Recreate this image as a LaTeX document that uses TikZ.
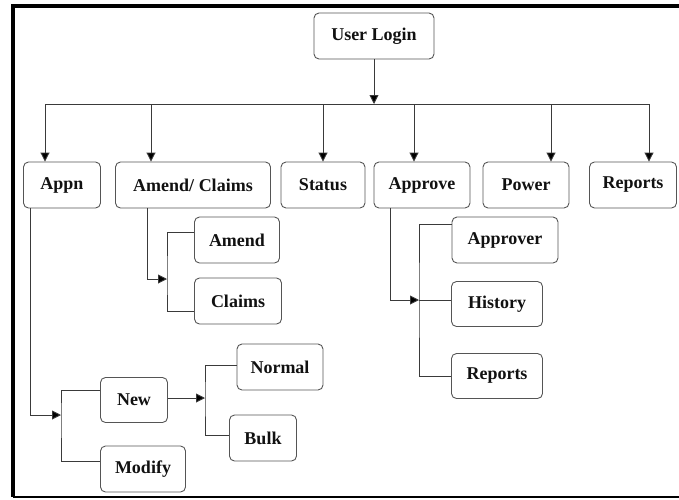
\documentclass[tikz,border=0pt]{standalone}
\usepackage{fontspec}
\setmainfont{Liberation Serif}
\newfontfamily\boxfont{Liberation Serif}
\usepackage{tikz}
\usetikzlibrary{arrows.meta,positioning,calc}
\usepackage{xcolor}
\definecolor{MenuLine}{HTML}{3a3a3a}
\definecolor{MenuBorder}{HTML}{555555}
\definecolor{MenuText}{HTML}{111111}

\begin{document}
\begin{tikzpicture}[
    x=1pt,y=-1pt,
    box/.style={draw=MenuBorder,line width=0.9pt,rounded corners=5pt,minimum height=46pt,inner sep=0pt,align=center,text=MenuText,font=\boxfont\fontsize{18}{20}\selectfont\bfseries},
    line/.style={MenuLine,line width=0.9pt},
    arr/.style={line,-{Triangle[length=9pt,width=9pt,fill=black]}},
    frame/.style={black,line width=4pt}
  ]
    \useasboundingbox (0,0) rectangle (679,499);

    % Frame
    \draw[frame] (679,6) -- (13,6) -- (13,497);
    \draw[black,line width=1.5pt] (13,497) -- (679,497);

    % TOP
    \node[box,minimum width=120pt] (login) at (374,36) {User Login};

    % MAIN MENU
    \node[box,minimum width=77pt] (appn) at (62,185) {Appn};
    \node[box,minimum width=155pt] (amcl) at (193,185) {Amend/ Claims};
    \node[box,minimum width=84pt] (status) at (323,185) {Status};
    \node[box,minimum width=96pt] (approve) at (422,185) {Approve};
    \node[box,minimum width=86pt] (power) at (526,185) {Power};
    \node[box,minimum width=87pt] (reports) at (633,185) {Reports};

    % SUB MENUS
    \node[box,minimum width=85pt] (amend) at (237,240) {Amend};
    \node[box,minimum width=87pt] (claims) at (238,301) {Claims};
    \node[box,minimum width=67pt,minimum height=45pt] (new) at (134,400) {New};
    \node[box,minimum width=85pt] (modify) at (143,469) {Modify};
    \node[box,minimum width=86pt] (normal) at (280,367) {Normal};
    \node[box,minimum width=67pt] (bulk) at (263,438) {Bulk};
    \node[box,minimum width=106pt] (approver) at (505,240) {Approver};
    \node[box,minimum width=91pt,minimum height=45pt] (history) at (497,304) {History};
    \node[box,minimum width=91pt,minimum height=45pt] (apprep) at (497,376) {Reports};

    % Bus points
    \coordinate (b1) at (45,104);
    \coordinate (b2) at (151,104);
    \coordinate (b3) at (323,104);
    \coordinate (b4) at (414,104);
    \coordinate (b5) at (551,104);
    \coordinate (b6) at (649,104);

    % Junctions
    \coordinate (amj) at (167,279);
    \coordinate (apj) at (61,415);
    \coordinate (nwj) at (205,398);
    \coordinate (aprj) at (419,300);

    % Arrows - main
    \draw[arr] (login.south) -- (login.south |- b1);
    \draw[line] (b1) -- (b6);
    \draw[arr] (b1) -- (b1 |- appn.north);
    \draw[arr] (b2) -- (b2 |- amcl.north);
    \draw[arr] (b3) -- (b3 |- status.north);
    \draw[arr] (b4) -- (b4 |- approve.north);
    \draw[arr] (b5) -- (b5 |- power.north);
    \draw[arr] (b6) -- (b6 |- reports.north);

    % Arrows - amend/claims
    \draw[arr] ([xshift=-46pt]amcl.south) |- (amj);
    \draw[line] ([yshift=8pt]amend.west) -| (amj) |- ([yshift=-10pt]claims.west);

    % Arrows - appn
    \draw[arr] ([xshift=-32pt]appn.south) |- (apj);
    \draw[line] ([yshift=10pt]new.west) -| (apj) |- ([yshift=8pt]modify.west);
    \draw[arr] (new.east |- nwj) -- (nwj);
    \draw[line] ([yshift=2pt]normal.west) -| (nwj) |- ([yshift=3pt]bulk.west);

    % Arrows - approve
    \draw[arr] ([xshift=-32pt]approve.south) |- (aprj);
    \draw[line] ([yshift=16pt]approver.west) -| (aprj) |- (apprep.west);
    \draw[line] (aprj) -- (aprj -| history.west);
  \end{tikzpicture}
\end{document}
